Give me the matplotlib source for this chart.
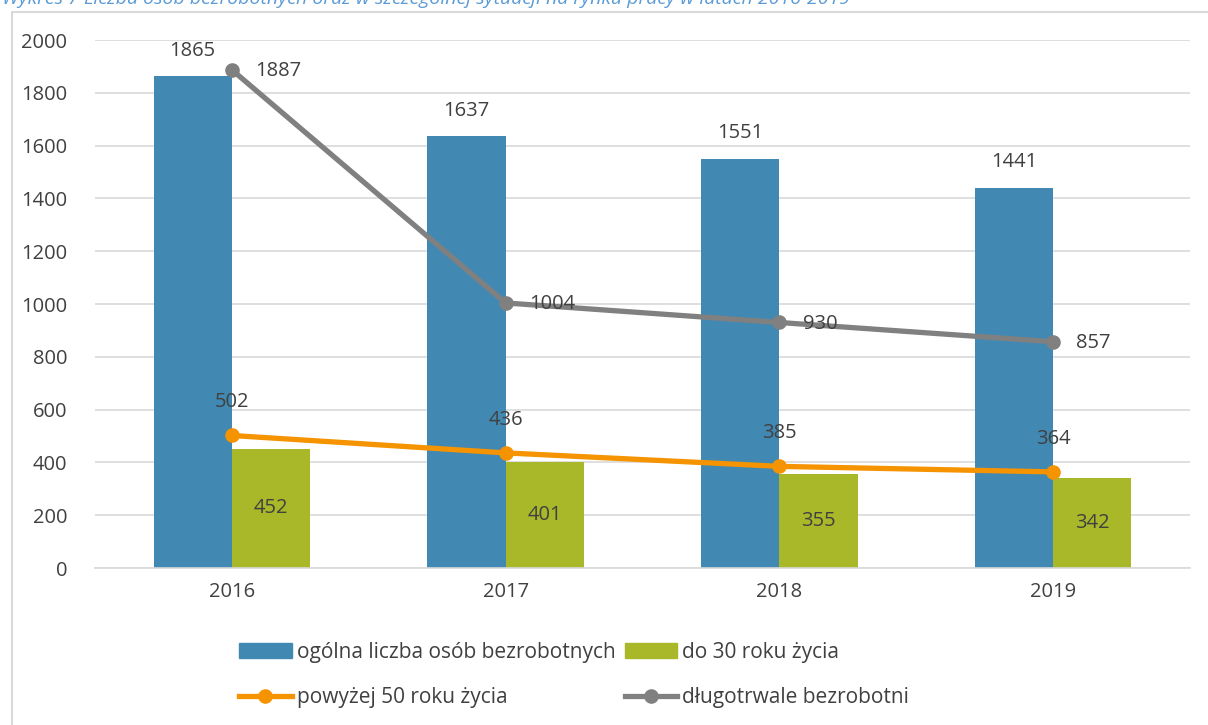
import matplotlib.pyplot as plt
import numpy as np
from matplotlib.patches import Rectangle
from matplotlib.lines import Line2D

plt.rcParams["font.family"] = ["Open Sans", "DejaVu Sans"]

years = ["2016", "2017", "2018", "2019"]
ogolna = [1865, 1637, 1551, 1441]
do30 = [452, 401, 355, 342]
pow50 = [502, 436, 385, 364]
dlugo = [1887, 1004, 930, 857]

C_BLUE = "#4189b3"
C_GREEN = "#a8b829"
C_ORANGE = "#f59300"
C_GREY = "#808080"
TXT = "#404040"

fig = plt.figure(figsize=(12.08, 7.25), dpi=100)
W, H = 1208, 725
ax = fig.add_axes([95 / W, 1 - 568 / H, (1190 - 95) / W, (568 - 40) / H])

x = np.arange(len(years))
bw = 0.286
ax.bar(x - bw / 2, ogolna, bw, color=C_BLUE, zorder=2)
ax.bar(x + bw / 2, do30, bw, color=C_GREEN, zorder=2)
ax.plot(x, pow50, color=C_ORANGE, lw=3.8, marker="o", ms=9.5, zorder=3,
        solid_capstyle="round")
ax.plot(x, dlugo, color=C_GREY, lw=3.8, marker="o", ms=9.5, zorder=3,
        solid_capstyle="round")

ax.set_xlim(-0.5, 3.5)
ax.set_ylim(0, 2000)
ax.set_yticks(range(0, 2001, 200))
ax.set_xticks(x)
ax.set_xticklabels(years)
ax.grid(axis="y", color="#d9d9d9", lw=1.2, zorder=0)
ax.set_axisbelow(True)
for s in ["top", "right", "left"]:
    ax.spines[s].set_visible(False)
ax.spines["bottom"].set_color("#d9d9d9")
ax.spines["bottom"].set_linewidth(1.2)
fs = 14.5
ax.tick_params(length=0, labelsize=fs, colors=TXT, pad=10)
ax.tick_params(axis="y", pad=20)

for i in range(len(years)):
    ax.text(x[i] - bw / 2, ogolna[i] + 95, str(ogolna[i]), ha="center", va="center",
            fontsize=fs, color=TXT, zorder=4)
    ax.text(x[i] + bw / 2, do30[i] / 2, str(do30[i]), ha="center", va="center",
            fontsize=fs, color=TXT, zorder=4)
    ax.text(x[i], pow50[i] + 125, str(pow50[i]), ha="center", va="center",
            fontsize=fs, color=TXT, zorder=4)
    ax.text(x[i] + 0.085, dlugo[i] - 5, str(dlugo[i]), ha="left", va="center",
            fontsize=fs, color=TXT, zorder=4)

# outer frame and caption (cut at the top edge as in the source)
fig.add_artist(Rectangle((12 / W, -0.1), 1.2, 1 - 12 / H + 0.1, transform=fig.transFigure,
                         fill=False, edgecolor="#d9d9d9", lw=1.5))
fig.text(2 / W, 1 + 1 / H, "Wykres 7 Liczba osób bezrobotnych oraz w szczególnej sytuacji na rynku pracy w latach 2016-2019",
         ha="left", va="center", fontsize=14, style="italic", color="#5b9bd5")

handles = [
    Rectangle((0, 0), 1, 1, color=C_BLUE),
    Line2D([], [], color=C_ORANGE, lw=3.8, marker="o", ms=9.5),
    Rectangle((0, 0), 1, 1, color=C_GREEN),
    Line2D([], [], color=C_GREY, lw=3.8, marker="o", ms=9.5),
]
labels = ["ogólna liczba osób bezrobotnych", "powyżej 50 roku życia",
          "do 30 roku życia", "długotrwale bezrobotni"]
fig.legend(handles, labels, ncol=2, frameon=False, loc="center left",
           bbox_to_anchor=(229 / W, 1 - 675 / H), fontsize=15, borderpad=0,
           handlelength=2.5, handleheight=0.75, handletextpad=0.25,
           columnspacing=0.45, labelspacing=1.15, labelcolor=TXT)

fig.savefig("out.png", dpi=100)
